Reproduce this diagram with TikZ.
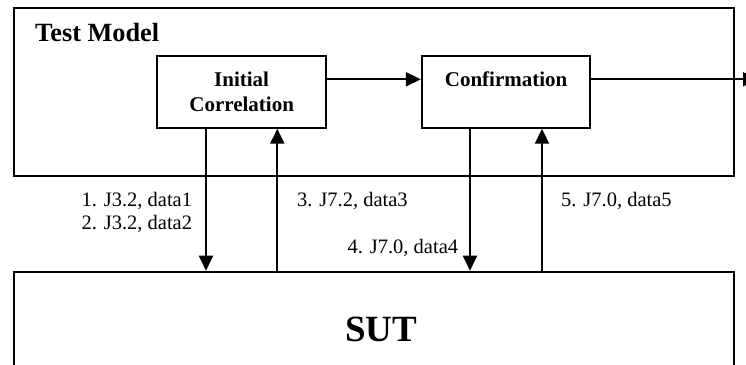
\documentclass[tikz,border=0pt]{standalone}
\usepackage{fontspec}
\setmainfont{Liberation Serif}
\usetikzlibrary{arrows.meta}
\begin{document}
\begin{tikzpicture}[x=1pt,y=-1pt,
  frame/.style={draw, line width=2pt, inner sep=0pt},
  proc/.style={frame, font=\fontsize{21}{25.3}\selectfont\bfseries, align=center,
               minimum width=168.5pt, minimum height=71.7pt},
  msg/.style={font=\fontsize{20.5}{23}\selectfont, inner sep=0pt},
  flow/.style={line width=2pt, -{Triangle[length=15pt,width=14pt]}}]
  \useasboundingbox (0,0) rectangle (746,364);

  % test model frame and its title
  \node[frame, minimum width=719.7pt, minimum height=167.7pt] (tm) at (373.85,91.85) {};
  \node[font=\fontsize{26.3}{31}\selectfont\bfseries, anchor=base west, inner sep=0pt]
       (title) at (35,41.7) {Test Model};

  % processing steps
  \node[proc] (ic) at (241.65,91.85) {Initial\\Correlation};
  \node[proc] (cf) at (506.15,91.85) {Confirmation\\\phantom{C}};

  % system under test
  \node[frame, minimum width=719.7pt, minimum height=110pt] (sut) at (373.85,326.7) {};
  \node[font=\fontsize{37}{44}\selectfont\bfseries, anchor=base, inner sep=0pt]
       (sutlabel) at (381.3,341.7) {SUT};

  % helper positions for the connectors
  \coordinate (row)  at (0,79.3);
  \coordinate (exit) at (758,79.3);
  \coordinate (c1) at (206,0);
  \coordinate (c2) at (277.3,0);
  \coordinate (c3) at (470,0);
  \coordinate (c4) at (542,0);

  % internal flow
  \draw[flow] (ic.east |- row) -- (cf.west |- row);
  \draw[flow] (cf.east |- row) -- (exit);

  % message exchange with the SUT
  \draw[flow] (ic.south -| c1) -- (sut.north -| c1);
  \draw[flow] (sut.north -| c2) -- (ic.south -| c2);
  \draw[flow] (cf.south -| c3) -- (sut.north -| c3);
  \draw[flow] (sut.north -| c4) -- (cf.south -| c4);

  % message labels
  \node[msg, align=right, anchor=north east] (m12) at (192.3,192) {1. J3.2, data1\\2. J3.2, data2};
  \node[msg, anchor=base west] (m3) at (297,206) {3. J7.2, data3};
  \node[msg, anchor=base east] (m4) at (458.3,253) {4. J7.0, data4};
  \node[msg, anchor=base west] (m5) at (561,206) {5. J7.0, data5};
\end{tikzpicture}
\end{document}
